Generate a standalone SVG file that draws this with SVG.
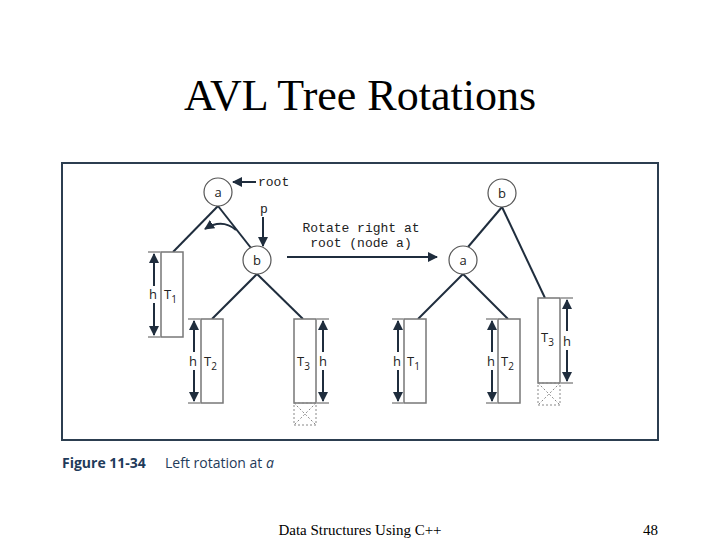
<svg xmlns="http://www.w3.org/2000/svg" width="720" height="540" viewBox="0 0 720 540">
<defs>
<marker id="ah" viewBox="0 0 10 10" refX="9" refY="5" markerWidth="5" markerHeight="5" orient="auto-start-reverse"><path d="M0,0 L10,5 L0,10 z" fill="#1f2d3d"/></marker>
<style>
.e{stroke:#1f2d3d;stroke-width:2;fill:none}
.n{fill:#fff;stroke:#555;stroke-width:1.2}
.t{fill:#fff;stroke:#777;stroke-width:1.5}
.d{fill:none;stroke:#888;stroke-width:1;stroke-dasharray:2,2}
.up{stroke:#1f2d3d;stroke-width:2;marker-start:url(#ah)}
.dn{stroke:#1f2d3d;stroke-width:2;marker-end:url(#ah)}
.tk{stroke:#555;stroke-width:1}
.s{font-family:"Open Sans","DejaVu Sans",sans-serif;font-size:13px;fill:#222}
.m{font-family:"Liberation Mono",monospace;font-size:13px;fill:#222}
</style>
</defs>
<text x="360" y="110" text-anchor="middle" font-family="Liberation Serif,serif" font-size="44">AVL Tree Rotations</text>
<rect x="62" y="163" width="596" height="277" fill="#fff" stroke="#2c3e50" stroke-width="2"/>
<g id="connectors">
<line class="e" x1="218" y1="206" x2="173" y2="252"/>
<line class="e" x1="218" y1="206" x2="251" y2="248"/>
<line class="e" x1="257" y1="274" x2="212" y2="319"/>
<line class="e" x1="257" y1="274" x2="303" y2="319"/>
<line class="e" x1="502" y1="207" x2="468" y2="247"/>
<line class="e" x1="502" y1="207" x2="545" y2="298"/>
<line class="e" x1="463" y1="274" x2="418" y2="319"/>
<line class="e" x1="463" y1="274" x2="508" y2="319"/>
<line class="e" x1="256" y1="182" x2="233" y2="182" marker-end="url(#ah)"/>
<line class="e" x1="263" y1="217" x2="263" y2="246" marker-end="url(#ah)"/>
<path class="e" d="M236,230 Q222,218 205,229" marker-end="url(#ah)"/>
<line class="e" x1="287" y1="257" x2="437" y2="257" marker-end="url(#ah)"/>
</g>
<g id="node-a-left"><circle class="n" cx="218" cy="192" r="14"/><text class="s" x="218" y="197" text-anchor="middle">a</text></g>
<g id="node-b-left"><circle class="n" cx="257" cy="260" r="14"/><text class="s" x="257" y="265" text-anchor="middle">b</text></g>
<g id="node-b-right"><circle class="n" cx="502" cy="193" r="14"/><text class="s" x="502" y="198" text-anchor="middle">b</text></g>
<g id="node-a-right"><circle class="n" cx="463" cy="260" r="14"/><text class="s" x="463" y="265" text-anchor="middle">a</text></g>
<g id="labels">
<text class="m" x="258" y="186">root</text>
<text class="m" x="264" y="213" text-anchor="middle">p</text>
<text class="m" x="361" y="232" text-anchor="middle">Rotate right at</text>
<text class="m" x="361" y="247" text-anchor="middle">root (node a)</text>
</g>
<g id="T1-left"><rect class="t" x="161" y="252" width="22" height="85"/><line class="tk" x1="148" y1="252" x2="160" y2="252"/><line class="tk" x1="148" y1="337" x2="160" y2="337"/><line class="up" x1="154" y1="254" x2="154" y2="286"/><line class="dn" x1="154" y1="303" x2="154" y2="335"/><text class="s" x="153" y="299" text-anchor="middle">h</text><text class="s" x="164" y="299">T<tspan font-size="10" dy="4">1</tspan></text></g>
<g id="T2-left"><rect class="t" x="201" y="319" width="22" height="84"/><line class="tk" x1="188" y1="319" x2="200" y2="319"/><line class="tk" x1="188" y1="403" x2="200" y2="403"/><line class="up" x1="194" y1="321" x2="194" y2="352"/><line class="dn" x1="194" y1="370" x2="194" y2="401"/><text class="s" x="193" y="366" text-anchor="middle">h</text><text class="s" x="204" y="366">T<tspan font-size="10" dy="4">2</tspan></text></g>
<g id="T3-left"><rect class="t" x="294" y="319" width="22" height="84"/><rect class="d" x="294" y="403" width="22" height="22"/><path class="d" d="M294,403 L316,425 M316,403 L294,425"/><line class="tk" x1="317" y1="319" x2="329" y2="319"/><line class="tk" x1="317" y1="403" x2="329" y2="403"/><line class="up" x1="323" y1="321" x2="323" y2="352"/><line class="dn" x1="323" y1="370" x2="323" y2="401"/><text class="s" x="323" y="366" text-anchor="middle">h</text><text class="s" x="297" y="366">T<tspan font-size="10" dy="4">3</tspan></text></g>
<g id="T1-right"><rect class="t" x="404" y="319" width="22" height="84"/><line class="tk" x1="392" y1="319" x2="403" y2="319"/><line class="tk" x1="392" y1="403" x2="403" y2="403"/><line class="up" x1="398" y1="321" x2="398" y2="352"/><line class="dn" x1="398" y1="370" x2="398" y2="401"/><text class="s" x="397" y="366" text-anchor="middle">h</text><text class="s" x="407" y="366">T<tspan font-size="10" dy="4">1</tspan></text></g>
<g id="T2-right"><rect class="t" x="498" y="319" width="22" height="84"/><line class="tk" x1="486" y1="319" x2="497" y2="319"/><line class="tk" x1="486" y1="403" x2="497" y2="403"/><line class="up" x1="492" y1="321" x2="492" y2="352"/><line class="dn" x1="492" y1="370" x2="492" y2="401"/><text class="s" x="491" y="366" text-anchor="middle">h</text><text class="s" x="501" y="366">T<tspan font-size="10" dy="4">2</tspan></text></g>
<g id="T3-right"><rect class="t" x="538" y="298" width="22" height="85"/><rect class="d" x="538" y="383" width="22" height="22"/><path class="d" d="M538,383 L560,405 M560,383 L538,405"/><line class="tk" x1="561" y1="298" x2="573" y2="298"/><line class="tk" x1="561" y1="383" x2="573" y2="383"/><line class="up" x1="567" y1="300" x2="567" y2="331"/><line class="dn" x1="567" y1="350" x2="567" y2="381"/><text class="s" x="567" y="346" text-anchor="middle">h</text><text class="s" x="541" y="342">T<tspan font-size="10" dy="4">3</tspan></text></g>
<text x="62" y="468" font-family="Open Sans,sans-serif" font-size="14" font-weight="bold" fill="#1f3b5a">Figure 11-34</text>
<text x="165" y="468" font-family="Open Sans,sans-serif" font-size="14" fill="#1f3b5a">Left rotation at <tspan font-style="italic">a</tspan></text>
<text x="360" y="535" text-anchor="middle" font-family="Liberation Serif,serif" font-size="15">Data Structures Using C++</text>
<text x="658" y="535" text-anchor="end" font-family="Liberation Serif,serif" font-size="15">48</text>
</svg>
